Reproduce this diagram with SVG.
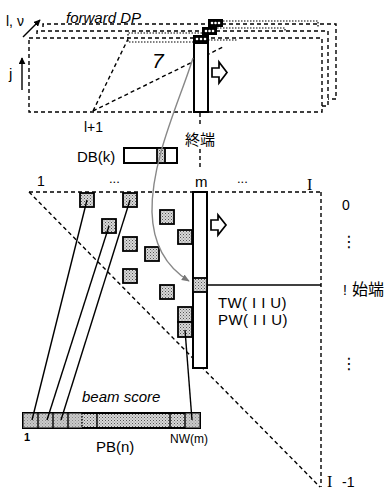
<svg xmlns="http://www.w3.org/2000/svg" width="387" height="490" viewBox="0 0 387 490">
<defs>
<style>
.t{font-family:"Liberation Sans",Arial,sans-serif;fill:#000}
.i{font-style:italic}
.jp{font-family:"Liberation Sans","Noto Sans CJK JP",sans-serif}
.dash{fill:none;stroke:#000;stroke-width:1.4;stroke-dasharray:4,3}
.dot{fill:none;stroke:#000;stroke-width:1.2;stroke-dasharray:1.5,1.5}
.cell{fill:url(#stip);stroke:#000;stroke-width:1.8}
.bar{fill:#fff;stroke:#000;stroke-width:2}
.ln{stroke:#000;stroke-width:1.4;fill:none}
.hollow{fill:#fff;stroke:#000;stroke-width:1.7;stroke-linejoin:miter}
.topcell{fill:#000}
.oo{fill:#fff}
</style>
<pattern id="stip" width="3" height="3" patternUnits="userSpaceOnUse">
<rect width="3" height="3" fill="#d8d8d8"/>
<rect x="0" y="0" width="1" height="1" fill="#555"/>
<rect x="1.5" y="1.5" width="1" height="1" fill="#777"/>
</pattern>
<marker id="ah" viewBox="0 0 10 10" refX="9" refY="5" markerWidth="7" markerHeight="7" orient="auto" markerUnits="userSpaceOnUse">
<path d="M0,0 L10,5 L0,10 z" fill="#000"/>
</marker>
<marker id="ahg" viewBox="0 0 10 10" refX="9" refY="5" markerWidth="8" markerHeight="8" orient="auto" markerUnits="userSpaceOnUse">
<path d="M0,1 L10,5 L0,9 z" fill="#777"/>
</marker>
</defs>
<rect width="387" height="490" fill="#fff"/>

<!-- axes labels top -->
<g id="axes-top">
<text class="t" x="6" y="26" font-size="14">l, ν</text>
<line class="ln" x1="23" y1="37" x2="40" y2="20" stroke-width="1.7" marker-end="url(#ah)"/>
<text class="t" x="9" y="79" font-size="15">j</text>
<line class="ln" x1="22" y1="90" x2="22" y2="58" stroke-width="1.7" marker-end="url(#ah)"/>
<text class="t i" x="66" y="23" font-size="15">forward DP</text>
</g>

<!-- forward DP frames -->
<g id="frames">
<polyline class="dash" points="43,27 43,24 336,24 336,99 328,99"/>
<polyline class="dash" points="37,34 37,31 328,31 328,106 322,106"/>
<rect class="dash" x="29" y="38" width="293" height="74"/>
<polyline class="dot" points="202,33 128,33 128,42 193,42"/>
<polyline class="dot" points="223,21 318,21 318,27"/>
<polyline class="dot" points="217,28 285,28 285,31"/>
<polyline class="dot" points="208,40 238,40"/>
<line class="dash" x1="93" y1="111" x2="128" y2="39"/>
<line class="dash" x1="93" y1="111" x2="223" y2="47"/>
<text class="t i" x="152" y="68" font-size="21">7</text>
<text class="t" x="84" y="132" font-size="14">l+1</text>
</g>

<!-- front bar with beam cells -->
<g id="front-bar">
<rect class="topcell" x="208" y="19" width="15" height="8"/>
<circle class="oo" cx="212" cy="23" r="1.3"/><circle class="oo" cx="215.5" cy="23" r="1.3"/><circle class="oo" cx="219" cy="23" r="1.3"/>
<rect class="topcell" x="202" y="27" width="15" height="8"/>
<circle class="oo" cx="206" cy="31" r="1.3"/><circle class="oo" cx="209.5" cy="31" r="1.3"/><circle class="oo" cx="213" cy="31" r="1.3"/>
<rect class="bar" x="194" y="43" width="14" height="69"/>
<rect class="topcell" x="193" y="35" width="16" height="8"/>
<circle class="oo" cx="197" cy="39" r="1.3"/><circle class="oo" cx="201" cy="39" r="1.3"/><circle class="oo" cx="205" cy="39" r="1.3"/>
<path class="hollow" d="M212,68 L219,68 L219,62 L227,72.5 L219,83 L219,77 L212,77 Z"/>
</g>

<!-- end label -->
<g id="end-label">
<line class="dash" x1="200" y1="113" x2="200" y2="127"/>
<text class="t jp" x="185" y="145" font-size="15">終端</text>
<line class="dash" x1="200" y1="149" x2="200" y2="170"/>
</g>

<!-- DB(k) -->
<g id="db">
<text class="t" x="77" y="162" font-size="15">DB(k)</text>
<rect class="bar" x="124" y="148" width="53" height="15" stroke-width="1.8"/>
<rect class="cell" x="157" y="148" width="8" height="15" stroke-width="1"/>
</g>

<!-- lower grid -->
<g id="grid">
<text class="t" x="37" y="186" font-size="14">1</text>
<text class="t" x="109" y="183" font-size="13">...</text>
<text class="t" x="195" y="187" font-size="15">m</text>
<text class="t" x="237" y="183" font-size="13">...</text>
<text x="307" y="190" font-size="16" font-family="Liberation Serif, serif">I</text>
<line class="dash" x1="29" y1="192" x2="321" y2="192"/>
<line class="dash" x1="321" y1="192" x2="321" y2="487" stroke-dasharray="3,2"/>
<line class="dash" x1="29" y1="192" x2="320" y2="487"/>
<text class="t" x="342" y="210" font-size="14">0</text>
<text x="341" y="247" font-size="16" font-family="DejaVu Sans, sans-serif">⋮</text>
<text class="t" x="343" y="295" font-size="14">!</text>
<text class="t jp" x="352" y="295" font-size="16">始端</text>
<text x="341" y="369" font-size="16" font-family="DejaVu Sans, sans-serif">⋮</text>
<text x="327" y="487" font-size="16" font-family="Liberation Serif, serif">I</text>
<text class="t" x="342" y="487" font-size="14">-1</text>
</g>

<!-- lattice cells -->
<g id="cells">
<rect class="cell" x="80" y="193" width="14" height="14"/>
<rect class="cell" x="123" y="193" width="14" height="14"/>
<rect class="cell" x="102" y="219" width="14" height="14"/>
<rect class="cell" x="160" y="210" width="14" height="14"/>
<rect class="cell" x="178" y="230" width="14" height="14"/>
<rect class="cell" x="123" y="237" width="14" height="14"/>
<rect class="cell" x="145" y="247" width="14" height="14"/>
<rect class="cell" x="123" y="269" width="14" height="14"/>
<rect class="cell" x="160" y="285" width="14" height="14"/>
<rect class="cell" x="178" y="307" width="14" height="15"/>
<rect class="cell" x="178" y="322" width="14" height="15"/>
</g>

<!-- lower bar -->
<g id="lower-bar">
<rect class="bar" x="193" y="192" width="14" height="176"/>
<rect class="cell" x="193" y="278" width="14" height="14" stroke-width="2"/>
<line class="ln" x1="207" y1="285" x2="321" y2="285"/>
<path class="hollow" d="M211,220 L218,220 L218,215 L226,225 L218,235 L218,230 L211,230 Z"/>
<text class="t" x="218" y="308" font-size="15" letter-spacing="0.4">TW( I I U)</text>
<text class="t" x="218" y="325" font-size="15" letter-spacing="0.4">PW( I I U)</text>
</g>

<!-- PB(n) -->
<g id="pb">
<text class="t i" x="82" y="402" font-size="15">beam score</text>
<rect x="23" y="413" width="177" height="15" fill="url(#stip)" stroke="#000" stroke-width="2"/>
<rect x="23" y="413" width="59" height="15" fill="#bbb" opacity="0.5"/>
<rect x="185" y="413" width="15" height="15" fill="#bbb" opacity="0.5"/>
<g class="ln" stroke-width="1.5">
<line x1="38" y1="413" x2="38" y2="428"/>
<line x1="53" y1="413" x2="53" y2="428"/>
<line x1="68" y1="413" x2="68" y2="428"/>
<line x1="82" y1="413" x2="82" y2="428" stroke-dasharray="1.5,1.5"/>
<line x1="97" y1="413" x2="97" y2="428"/>
<line x1="170" y1="413" x2="170" y2="428"/>
<line x1="185" y1="413" x2="185" y2="428"/>
</g>
<text class="t" x="24" y="441" font-size="11" font-weight="bold">1</text>
<text class="t" x="96" y="452" font-size="15">PB(n)</text>
<text class="t" x="170" y="443" font-size="12">NW(m)</text>
</g>

<!-- connectors -->
<g id="connectors">
<line class="ln" x1="87" y1="200" x2="32" y2="420"/>
<line class="ln" x1="109" y1="226" x2="47" y2="420"/>
<line class="ln" x1="130" y1="200" x2="61" y2="420"/>
<line class="ln" x1="185" y1="330" x2="192" y2="420"/>
<path d="M193,58 C180,100 151,160 152,212 C153,248 168,268 189,281" fill="none" stroke="#888" stroke-width="1.4" marker-end="url(#ahg)"/>
</g>
</svg>
